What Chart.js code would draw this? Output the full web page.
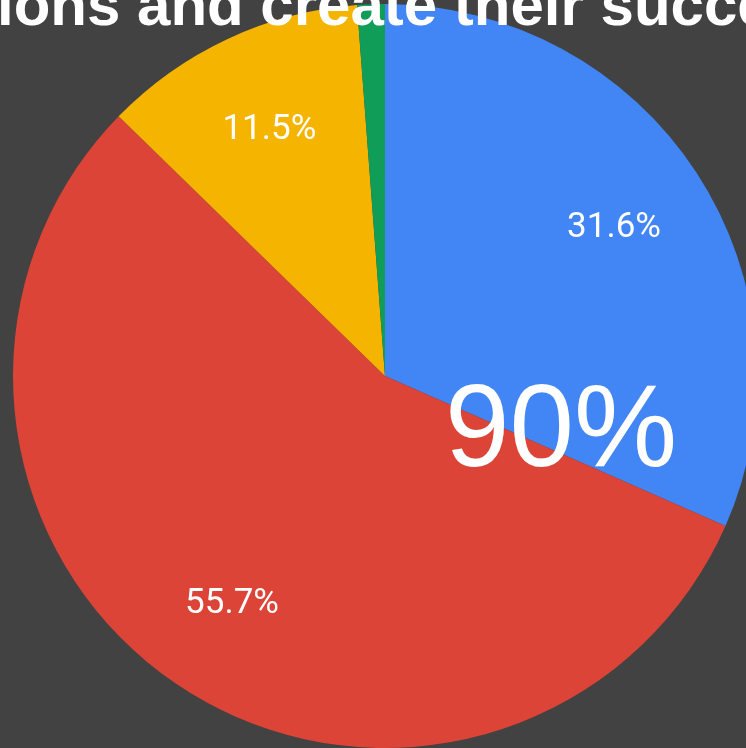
<!DOCTYPE html>
<html>
<head>
<meta charset="utf-8">
<script src="https://cdn.jsdelivr.net/npm/chart.js@4/dist/chart.umd.min.js"></script>
<style>
  html, body { margin: 0; padding: 0; background: #424242; overflow: hidden; }
  #wrap { width: 746px; height: 748px; overflow: hidden; position: relative; }
  canvas { display: block; }
</style>
</head>
<body>
<div id="wrap"><canvas id="pie" width="800" height="748"></canvas></div>
<script>
// slices, clockwise from 12 o'clock
const labels = ['A', 'B', 'C', 'D'];
const shares = [31.6, 55.7, 11.5, 1.2];
const colors = ['#4285f4', '#db4437', '#f4b400', '#0f9d58'];
const titleText = 'ions and create their succe';
const bigText = '90%';

// percentage labels inside the slices
const sliceLabels = {
  id: 'sliceLabels',
  afterDatasetsDraw(chart) {
    const ctx = chart.ctx;
    const meta = chart.getDatasetMeta(0);
    const total = shares.reduce((a, b) => a + b, 0);
    ctx.save();
    ctx.fillStyle = '#ffffff';
    ctx.font = '35px Roboto';
    ctx.textAlign = 'center';
    ctx.textBaseline = 'middle';
    meta.data.forEach((arc, i) => {
      const pct = shares[i] / total * 100;
      if (pct < 5) return;
      const p = arc.getProps(['x', 'y', 'startAngle', 'endAngle', 'outerRadius'], true);
      const mid = (p.startAngle + p.endAngle) / 2;
      const r = p.outerRadius * 0.735;
      ctx.fillText(pct.toFixed(1) + '%', p.x + Math.cos(mid) * r, p.y + Math.sin(mid) * r + 2);
    });
    ctx.restore();
  }
};

// clipped title and big overlay figure
const overlay = {
  id: 'overlay',
  afterDraw(chart) {
    const ctx = chart.ctx;
    ctx.save();
    ctx.fillStyle = '#ffffff';
    ctx.textBaseline = 'alphabetic';
    ctx.textAlign = 'left';
    ctx.font = 'bold 60px "Liberation Sans", Arial, sans-serif';
    ctx.fillText(titleText, -3, 25);
    ctx.font = '116px "Liberation Sans", Arial, sans-serif';
    ctx.fillText(bigText, 445, 466);
    ctx.restore();
  }
};

new Chart(document.getElementById('pie'), {
  type: 'pie',
  data: {
    labels: labels,
    datasets: [{
      data: shares,
      backgroundColor: colors,
      borderWidth: 0
    }]
  },
  options: {
    responsive: false,
    animation: false,
    layout: { padding: { left: 13, right: 43, top: 4, bottom: 0 } },
    plugins: {
      legend: { display: false },
      tooltip: { enabled: false }
    }
  },
  plugins: [sliceLabels, overlay]
});
</script>
</body>
</html>
